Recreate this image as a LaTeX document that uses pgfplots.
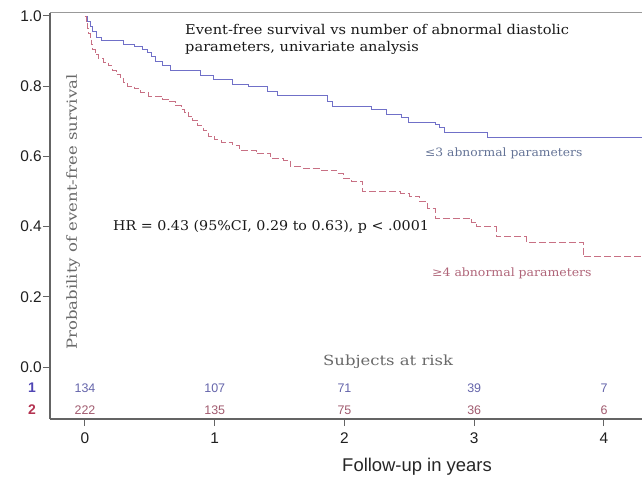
\documentclass[border=0pt]{standalone}
\usepackage{pgfplots}
\pgfplotsset{compat=1.18}
\usepackage{graphicx}
\usepackage{fontspec}
\setmainfont{DejaVu Serif}
\newfontfamily\sansf{Liberation Sans}
\definecolor{blueline}{RGB}{112,112,200}
\definecolor{redline}{RGB}{200,112,132}
\definecolor{bluetext}{RGB}{100,115,150}
\definecolor{redtext}{RGB}{175,100,120}
\definecolor{bluenum}{RGB}{100,100,170}
\definecolor{rednum}{RGB}{160,90,110}
\definecolor{bluelab}{RGB}{80,70,180}
\definecolor{redlab}{RGB}{180,50,80}
\definecolor{axiscol}{RGB}{100,100,100}
\definecolor{graytext}{RGB}{105,105,105}
\tikzset{bn/.style={anchor=base, inner sep=0, text=bluenum, font=\sansf\fontsize{12.5}{14}\selectfont},
         rn/.style={anchor=base, inner sep=0, text=rednum, font=\sansf\fontsize{12.5}{14}\selectfont}}
\begin{document}
\begin{tikzpicture}
\begin{axis}[name=ax, at={(0,0)}, anchor=south west,
  scale only axis, width=592bp, height=406.3bp,
  xmin=-0.2697, xmax=4.293, ymin=-0.148, ymax=1.0094,
  axis x line*=bottom, axis y line*=left,
  axis line style={axiscol, line width=1.3pt},
  tick align=outside, major tick length=7bp,
  tick style={axiscol, line width=1pt},
  xtick={0,1,2,3,4},
  ytick={0,0.2,0.4,0.6,0.8,1.0},
  yticklabels={0.0,0.2,0.4,0.6,0.8,1.0},
  /pgf/number format/assume math mode=true,
  tick label style={font=\sansf\fontsize{15.5}{18}\selectfont, text=black!88},
  yticklabel style={inner sep=1bp},
  xticklabel style={yshift=-3bp},
  clip=false]
\draw[gray!80, line width=1pt] (rel axis cs:0,1) -- (rel axis cs:1,1);
\addplot[const plot, blueline, line width=0.9pt] coordinates {
(0,1.0) (0.02,0.985) (0.04,0.97) (0.06,0.955) (0.09,0.94) (0.13,0.93)
(0.30,0.92) (0.38,0.913) (0.44,0.905) (0.48,0.896) (0.51,0.885) (0.54,0.870)
(0.60,0.858) (0.66,0.846) (0.89,0.832) (0.99,0.818) (1.14,0.806) (1.26,0.799)
(1.41,0.784) (1.48,0.773) (1.87,0.757) (1.91,0.742)
(2.21,0.734) (2.32,0.72) (2.44,0.711) (2.49,0.697) (2.70,0.691) (2.73,0.683)
(2.77,0.668) (3.10,0.653) (4.293,0.653)};
\addplot[const plot, redline, line width=0.9pt, dash pattern=on 7bp off 3bp] coordinates {
(0,1.0) (0.01,0.98) (0.02,0.965) (0.03,0.95) (0.04,0.935) (0.05,0.92) (0.06,0.905)
(0.08,0.89) (0.10,0.878) (0.14,0.868) (0.18,0.858) (0.21,0.846) (0.24,0.834)
(0.27,0.822) (0.30,0.81) (0.33,0.80) (0.38,0.793) (0.43,0.782) (0.49,0.772)
(0.60,0.763) (0.65,0.756) (0.70,0.745) (0.74,0.734) (0.77,0.725) (0.80,0.714)
(0.83,0.703) (0.87,0.688) (0.91,0.673) (0.95,0.658) (1.00,0.648) (1.05,0.640)
(1.14,0.632) (1.19,0.618) (1.32,0.608) (1.43,0.594) (1.53,0.589) (1.58,0.571)
(1.68,0.566) (1.82,0.561) (1.94,0.552) (1.99,0.538) (2.05,0.530) (2.14,0.50)
(2.43,0.495) (2.50,0.487) (2.58,0.471) (2.64,0.452) (2.70,0.424) (2.98,0.413)
(3.02,0.40) (3.17,0.371) (3.40,0.356) (3.84,0.314) (4.293,0.314)};
% texts
\node[anchor=base west, inner sep=0, text=black!90, font=\fontsize{13.5}{15}\selectfont] at (axis cs:0.771,0.946) {\scalebox{1.085}[1]{Event-free survival vs number of abnormal diastolic}};
\node[anchor=base west, inner sep=0, text=black!90, font=\fontsize{13.5}{15}\selectfont] at (axis cs:0.771,0.898) {\scalebox{1.085}[1]{parameters, univariate analysis}};
\node[anchor=base west, inner sep=0, text=black!90, font=\fontsize{13.5}{15}\selectfont] at (axis cs:0.216,0.390) {\scalebox{1.06}[1]{HR = 0.43 (95\%CI, 0.29 to 0.63), p < .0001}};
\node[anchor=base west, inner sep=0, text=bluetext, font=\fontsize{11.5}{13}\selectfont] at (axis cs:2.620,0.599) {\scalebox{1.075}[1]{≤3 abnormal parameters}};
\node[anchor=base west, inner sep=0, text=redtext, font=\fontsize{11.5}{13}\selectfont] at (axis cs:2.674,0.259) {\scalebox{1.09}[1]{≥4 abnormal parameters}};
\node[anchor=base west, inner sep=0, text=graytext, font=\fontsize{14}{16}\selectfont] at (axis cs:1.834,0.004) {\scalebox{1.18}[1]{Subjects at risk}};
\node[rotate=90, inner sep=0, text=graytext, font=\fontsize{14}{16}\selectfont] at (axis cs:-0.092,0.4416) {\scalebox{1.185}[1]{Probability of event-free survival}};
\node[anchor=base, inner sep=0, font=\sansf\fontsize{18.5}{20}\selectfont, text=black!85] at (axis cs:2.559,-0.298) {Follow-up in years};
% at risk
\node[bn] at (axis cs:0,-0.073) {134};
\node[bn] at (axis cs:1,-0.073) {107};
\node[bn] at (axis cs:2,-0.073) {71};
\node[bn] at (axis cs:3,-0.073) {39};
\node[bn] at (axis cs:4,-0.073) {7};
\node[rn] at (axis cs:0,-0.134) {222};
\node[rn] at (axis cs:1,-0.134) {135};
\node[rn] at (axis cs:2,-0.134) {75};
\node[rn] at (axis cs:3,-0.134) {36};
\node[rn] at (axis cs:4,-0.134) {6};
\node[anchor=base, inner sep=0, text=bluelab, font=\sansf\bfseries\fontsize{14}{16}\selectfont] at (axis cs:-0.408,-0.073) {1};
\node[anchor=base, inner sep=0, text=redlab, font=\sansf\bfseries\fontsize{14}{16}\selectfont] at (axis cs:-0.408,-0.134) {2};
\end{axis}
\pgfresetboundingbox
\useasboundingbox (-50bp,-66bp) rectangle (592bp,419bp);
\end{tikzpicture}
\end{document}
